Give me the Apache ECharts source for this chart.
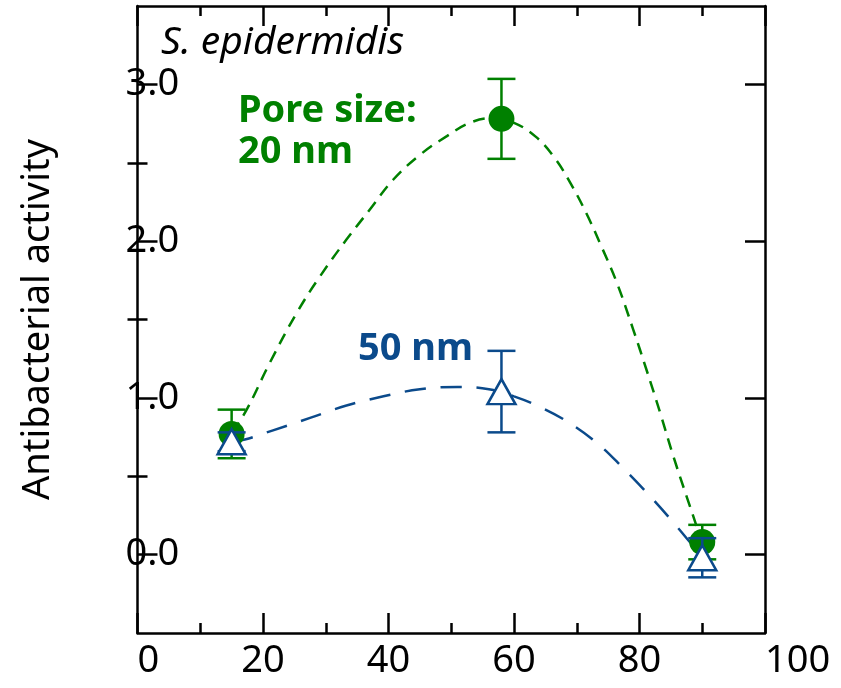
<!DOCTYPE html>
<html>
<head>
<meta charset="utf-8">
<script src="https://cdn.jsdelivr.net/npm/echarts@6/dist/echarts.min.js"></script>
<style>html,body{margin:0;padding:0;background:#fff}#c{width:841px;height:688px}</style>
</head>
<body>
<div id="c"></div>
<script>
// ---- data ----
const xTicks = [0, 20, 40, 60, 80, 100];
const yTickLabels = [0, 1, 2, 3];
const yMinorTicks = [0.5, 1.5, 2.5];

const pointX = [15, 58, 90];
const green20Y = [0.77, 2.78, 0.08];
const green20Err = [0.155, 0.255, 0.11];
const blue50Y = [0.72, 1.04, -0.02];
const blue50Err = [0.06, 0.26, 0.125];

const greenCurveX = [15.1, 17.4, 21.1, 25.4, 29.1, 33.3, 37.0, 40.7, 45.0, 49.3, 53.0, 56.5, 60.0, 63.5, 66.5, 69.0, 71.5, 74.0, 76.4, 79.0, 81.1, 83.3, 85.4, 87.5, 89.1, 89.8];
const greenCurveY = [0.78, 0.925, 1.225, 1.544, 1.776, 2.01, 2.20, 2.39, 2.55, 2.67, 2.755, 2.785, 2.755, 2.665, 2.53, 2.37, 2.18, 1.96, 1.734, 1.436, 1.181, 0.904, 0.627, 0.372, 0.181, 0.09];
const blueCurveX = [15.1, 17.1, 21.6, 27.5, 33.3, 39.2, 45.0, 51.0, 56.0, 60.0, 64.0, 68.4, 73.2, 77.4, 81.7, 85.7, 88.6, 89.8];
const blueCurveY = [0.72, 0.734, 0.793, 0.872, 0.951, 1.010, 1.055, 1.070, 1.055, 1.010, 0.945, 0.851, 0.713, 0.552, 0.372, 0.191, 0.053, 0.0];

const GREEN = '#008000';
const BLUE = '#0b4a8b';
const FONT = 'Noto Sans';

const zip = (a, b) => a.map((v, i) => [v, b[i]]);
const errData = (ys, es) => pointX.map((x, i) => [x, ys[i] - es[i], ys[i] + es[i]]);

function errRender(color) {
  return function (params, api) {
    const x = api.value(0), lo = api.value(1), hi = api.value(2);
    const pt = api.coord([x, hi]), pb = api.coord([x, lo]);
    const w = 14;
    const st = { stroke: color, lineWidth: 2.5 };
    return {
      type: 'group',
      children: [
        { type: 'line', shape: { x1: pt[0], y1: pt[1], x2: pb[0], y2: pb[1] }, style: st },
        { type: 'line', shape: { x1: pt[0] - w, y1: pt[1], x2: pt[0] + w, y2: pt[1] }, style: st },
        { type: 'line', shape: { x1: pb[0] - w, y1: pb[1], x2: pb[0] + w, y2: pb[1] }, style: st }
      ]
    };
  };
}

const axisLine = { show: true, onZero: false, lineStyle: { color: '#000', width: 2.5 } };
const tickStyle = { color: '#000', width: 2.5 };

const chart = echarts.init(document.getElementById('c'), null, { renderer: 'canvas' });
chart.setOption({
  animation: false,
  backgroundColor: '#fff',
  grid: { left: 137.5, right: 76, top: 6, bottom: 55, containLabel: false, outerBoundsMode: 'none' },
  title: [
    { text: 'S. epidermidis', left: 161, top: 23, padding: 0,
      textStyle: { fontFamily: FONT, fontSize: 39, fontStyle: 'italic', fontWeight: 'normal', color: '#000' } },
    { text: 'Pore size:\n20 nm', left: 238, top: 91, padding: 0,
      textStyle: { fontFamily: FONT, fontSize: 38, fontWeight: 'bold', color: GREEN, lineHeight: 41 } },
    { text: '50 nm', left: 358, top: 330, padding: 0,
      textStyle: { fontFamily: FONT, fontSize: 38, fontWeight: 'bold', color: BLUE } }
  ],
  xAxis: [
    { type: 'value', min: 0, max: 100, interval: 20, position: 'bottom',
      axisLine: axisLine,
      axisTick: { show: true, inside: true, length: 20, lineStyle: tickStyle },
      minorTick: { show: true, splitNumber: 2, length: 10, lineStyle: tickStyle },
      axisLabel: { fontFamily: FONT, fontSize: 38, color: '#000', margin: 9, alignMinLabel: 'left', alignMaxLabel: 'left' },
      splitLine: { show: false }, minorSplitLine: { show: false } },
    { type: 'value', min: 0, max: 100, interval: 20, position: 'top',
      axisLine: axisLine,
      axisTick: { show: true, inside: true, length: 20, lineStyle: tickStyle },
      minorTick: { show: true, splitNumber: 2, length: 10, lineStyle: tickStyle },
      axisLabel: { show: false }, splitLine: { show: false } }
  ],
  yAxis: [
    { type: 'value', min: -0.5, max: 3.5, interval: 0.5, position: 'left', offset: 0,
      name: 'Antibacterial activity', nameLocation: 'middle', nameGap: 80, nameRotate: 90,
      nameTextStyle: { fontFamily: FONT, fontSize: 38, color: '#000' },
      axisLine: axisLine,
      axisTick: { show: true, inside: true, length: 20, lineStyle: tickStyle, customValues: yTickLabels },
      axisLabel: { inside: true, margin: -12, fontFamily: FONT, fontSize: 38, color: '#000',
        customValues: yTickLabels, formatter: v => Number(v).toFixed(1) },
      splitLine: { show: false } },
    { type: 'value', min: -0.5, max: 3.5, interval: 0.5, position: 'left', offset: 0,
      axisLine: { show: false },
      axisTick: { show: true, inside: true, length: 10, lineStyle: tickStyle, customValues: yMinorTicks },
      axisLabel: { show: false }, splitLine: { show: false } },
    { type: 'value', min: -0.5, max: 3.5, interval: 0.5, position: 'right', offset: 0,
      axisLine: axisLine,
      axisTick: { show: true, inside: true, length: 20, lineStyle: tickStyle, customValues: yTickLabels },
      axisLabel: { show: false }, splitLine: { show: false } },
    { type: 'value', min: -0.5, max: 3.5, interval: 0.5, position: 'right', offset: 0,
      axisLine: { show: false },
      axisTick: { show: true, inside: true, length: 10, lineStyle: tickStyle, customValues: yMinorTicks },
      axisLabel: { show: false }, splitLine: { show: false } }
  ],
  series: [
    { type: 'line', name: 'fit20', data: zip(greenCurveX, greenCurveY), smooth: 0.4, showSymbol: false,
      lineStyle: { color: GREEN, width: 2.5, type: [12, 8] }, z: 2 },
    { type: 'line', name: 'fit50', data: zip(blueCurveX, blueCurveY), smooth: 0.4, showSymbol: false,
      lineStyle: { color: BLUE, width: 2.5, type: [21, 15] }, z: 2 },
    { type: 'custom', name: 'err20', data: errData(green20Y, green20Err), renderItem: errRender(GREEN), z: 3 },
    { type: 'scatter', name: '20 nm', data: zip(pointX, green20Y), symbol: 'circle', symbolSize: 26,
      itemStyle: { color: GREEN, opacity: 1 }, z: 4 },
    { type: 'custom', name: 'err50', data: errData(blue50Y, blue50Err), renderItem: errRender(BLUE), z: 5 },
    { type: 'scatter', name: '50 nm', data: zip(pointX, blue50Y), symbol: 'triangle', symbolSize: [28, 25],
      itemStyle: { color: '#fff', borderColor: BLUE, borderWidth: 2.5, opacity: 1 }, z: 6 }
  ]
});
</script>
</body>
</html>
